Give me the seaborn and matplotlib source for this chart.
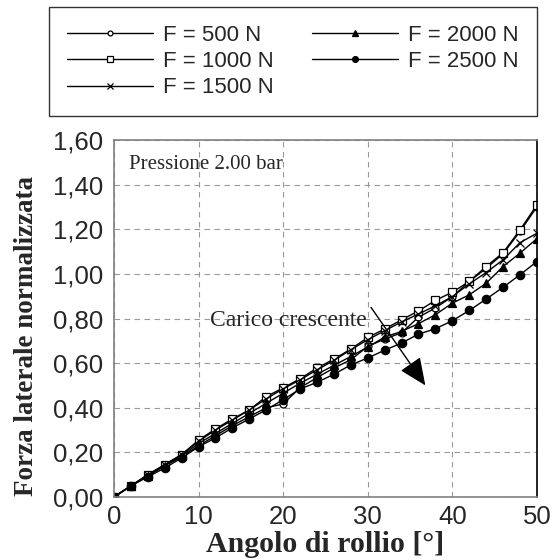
import matplotlib
matplotlib.use("Agg")
import matplotlib.pyplot as plt
import seaborn as sns
import numpy as np
import pandas as pd
from matplotlib.ticker import FuncFormatter, MultipleLocator

# Data (roll angle step 2 deg)
angolo = list(range(0, 52, 2))

f500 = [0, 0.05, 0.095, 0.14, 0.18, 0.23, 0.275, 0.32, 0.36, 0.40, 0.417, 0.49,
        0.535, 0.578, 0.615, 0.675, 0.708, 0.736, 0.806, 0.847, 0.898, 0.966,
        1.025, 1.09, 1.19, 1.30]
f1000 = [0, 0.05, 0.10, 0.145, 0.19, 0.255, 0.305, 0.35, 0.39, 0.45, 0.489, 0.53,
         0.578, 0.618, 0.663, 0.715, 0.753, 0.794, 0.834, 0.881, 0.918, 0.966,
         1.033, 1.095, 1.197, 1.309]
f1500 = [0, 0.05, 0.10, 0.145, 0.19, 0.25, 0.30, 0.345, 0.39, 0.44, 0.485, 0.525,
         0.57, 0.612, 0.66, 0.705, 0.745, 0.785, 0.82, 0.857, 0.898, 0.955,
         1.006, 1.063, 1.14, 1.182]
f2000 = [0, 0.05, 0.095, 0.14, 0.185, 0.24, 0.285, 0.33, 0.375, 0.42, 0.465, 0.51,
         0.55, 0.59, 0.63, 0.672, 0.717, 0.742, 0.777, 0.817, 0.869, 0.906,
         0.958, 1.033, 1.093, 1.158]
f2500 = [0, 0.05, 0.09, 0.13, 0.175, 0.225, 0.265, 0.31, 0.35, 0.391, 0.436, 0.484,
         0.514, 0.55, 0.592, 0.623, 0.658, 0.69, 0.73, 0.754, 0.790, 0.836,
         0.887, 0.94, 0.996, 1.055]

etichette = ["F = 500 N", "F = 1000 N", "F = 1500 N", "F = 2000 N", "F = 2500 N"]
serie = [f500, f1000, f1500, f2000, f2500]
marcatori = ["o", "s", "x", "^", "o"]
pieni = [False, False, False, True, True]
dimensioni = [5, 5.5, 5.5, 5.5, 6]

sns.set_style("white")
plt.rcParams["font.family"] = ["Liberation Sans", "DejaVu Sans"]

fig = plt.figure(figsize=(5.55, 5.6), dpi=100)
ax = fig.add_axes([0.2054, 0.1125, 0.762, 0.6375])

for lab, vals, mk, full, ms in zip(etichette, serie, marcatori, pieni, dimensioni):
    df = pd.DataFrame({"angolo": angolo, "forza": vals})
    sns.lineplot(data=df, x="angolo", y="forza", ax=ax, color="black", lw=1,
                 marker=mk, markersize=ms, markeredgecolor="black",
                 markerfacecolor="black" if full else "white",
                 markeredgewidth=0.9, label=lab)

ax.set_xlim(0, 50)
ax.set_ylim(0, 1.6)
ax.xaxis.set_major_locator(MultipleLocator(10))
ax.yaxis.set_major_locator(MultipleLocator(0.2))
ax.yaxis.set_major_formatter(FuncFormatter(lambda v, p: f"{v:.2f}".replace(".", ",")))
ax.grid(True, color="#999999", linestyle=(0, (5, 4)), lw=0.8)
ax.tick_params(axis="both", labelsize=18.5, direction="in", length=4, color="#888888")
ax.tick_params(axis="y", pad=8)
ax.tick_params(axis="x", pad=6)
for side in ["left", "bottom", "top"]:
    ax.spines[side].set_color("#808080")
    ax.spines[side].set_linewidth(1.2)
ax.spines["right"].set_color("black")
ax.spines["right"].set_linewidth(1.2)

ax.set_xlabel("Angolo di rollio [°]", family=["Liberation Serif"], fontweight="bold",
              fontsize=21.5, labelpad=1)
ax.set_ylabel("Forza laterale normalizzata", family=["Liberation Serif"], fontweight="bold",
              fontsize=19.5)
ax.yaxis.set_label_coords(-0.177, 0.45)

ax.text(1.8, 1.49, "Pressione 2.00 bar", family=["Liberation Serif"], fontsize=15,
        va="center", ha="left")
ax.text(20.6, 0.79, "Carico crescente", family=["Liberation Serif"], fontsize=17,
        va="center", ha="center")
ax.annotate("", xy=(37.0, 0.49), xytext=(30.2, 0.86),
            arrowprops=dict(arrowstyle="-|>,head_length=1.7,head_width=0.75",
                            color="black", lw=1))

ax.get_legend().remove()
h, l = ax.get_legend_handles_labels()
leg = fig.legend(h, l, ncol=2, loc="upper left", bbox_to_anchor=(0.088, 0.9875),
                 fontsize=16, frameon=True, fancybox=False, edgecolor="black",
                 markerscale=0.7, handlelength=3.9, handletextpad=0.45,
                 labelspacing=0.24, borderpad=0.8, columnspacing=1.7,
                 borderaxespad=0)
leg.get_frame().set_linewidth(1.0)

fig.savefig("out.png", dpi=100)
